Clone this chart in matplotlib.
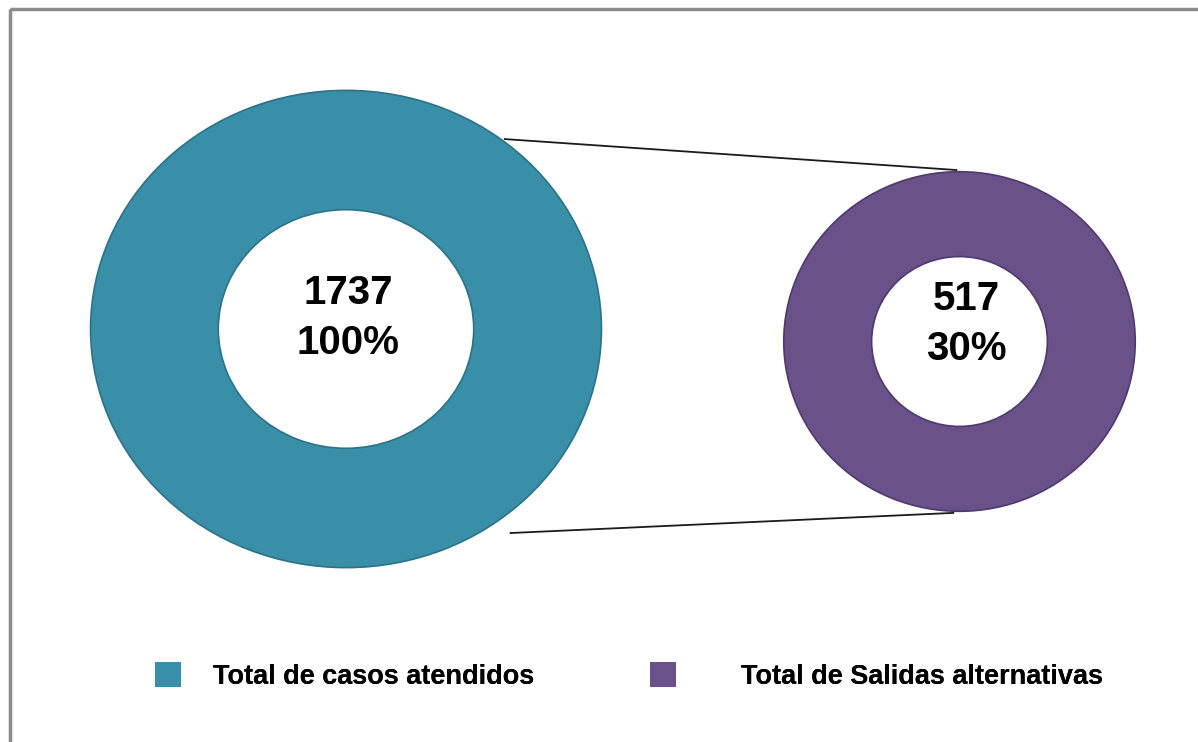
import numpy as np
import matplotlib
matplotlib.use("Agg")
from matplotlib import pyplot as plt
from matplotlib.patches import Patch, Rectangle

# data
labels = ["Total de casos atendidos", "Total de Salidas alternativas"]
counts = [1737, 517]
shares = [100, 30]
colors = ["#3A8FA8", "#6A518A"]
edge_colors = ["#2C7288", "#4F3A6C"]

plt.rcParams["font.family"] = ["Liberation Sans", "DejaVu Sans"]

W, H = 1198, 742
fig = plt.figure(figsize=(W / 100, H / 100), dpi=100)

# background axes in pixel units (y down) for frame and connector lines
bg = fig.add_axes([0, 0, 1, 1], zorder=0)
bg.set_xlim(0, W)
bg.set_ylim(H, 0)
bg.axis("off")
bg.add_patch(Rectangle((10, 9), W + 20, H + 20, fill=False,
                       edgecolor="#8C8C8C", linewidth=2.5))

# donut boxes (left, top, right, bottom) in pixels
boxes = [(88, 88, 604, 570), (782, 170, 1137, 513)]
text_pos = [(348, 318), (966, 324)]


def add_donut(box, value, color, ec):
    l, t, r, b = box
    ax = fig.add_axes([l / W, 1 - b / H, (r - l) / W, (b - t) / H], zorder=2)
    ax.pie([value], colors=[color], startangle=90, radius=1,
           wedgeprops=dict(width=0.5, edgecolor=ec, linewidth=1.2))
    ax.set_xlim(-1.01, 1.01)
    ax.set_ylim(-1.01, 1.01)
    ax.set_aspect("auto")
    ax.axis("off")
    return ax


for box, v, c, ec in zip(boxes, counts, colors, edge_colors):
    add_donut(box, v, c, ec)


def edge_point(box, ang, k=1.0):
    l, t, r, b = box
    cx, cy = (l + r) / 2, (t + b) / 2
    a = np.radians(ang)
    return cx + k * (r - l) / 2 * np.cos(a), cy - k * (b - t) / 2 * np.sin(a)


# connector lines big -> small
for a_big, k_big, a_small in [(52, 1.0, 91), (-53, 1.06, -92)]:
    x0, y0 = edge_point(boxes[0], a_big, k_big)
    x1, y1 = edge_point(boxes[1], a_small)
    bg.plot([x0, x1], [y0, y1], color="#1A1A1A", linewidth=1.3)

for (x, y), v, s in zip(text_pos, counts, shares):
    fig.text(x / W, 1 - y / H, "{}\n{}%".format(v, s), ha="center", va="center",
             fontsize=29, fontweight="bold", linespacing=1.42, zorder=5)

# two separate legend entries (gap between square and text differs)
for lab, c, x0, pad in zip(labels, colors, [155, 650], [1.18, 2.4]):
    leg = fig.legend([Patch(facecolor=c, edgecolor="none")], [lab], loc="center left",
                     bbox_to_anchor=(x0 / W, 1 - 676 / H), frameon=False,
                     prop=dict(size=19.5, weight="bold"), handlelength=0.96,
                     handleheight=1.0, handletextpad=pad, borderpad=0, borderaxespad=0)
    fig.add_artist(leg)

fig.savefig("out.png", dpi=100)
